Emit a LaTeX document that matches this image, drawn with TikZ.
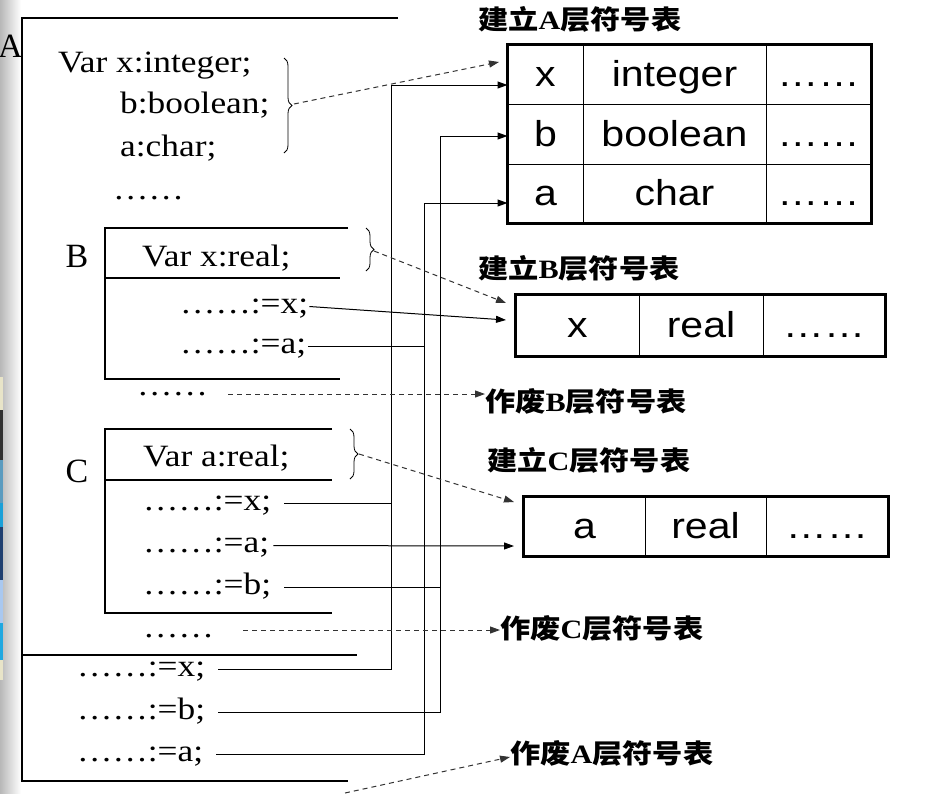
\documentclass[tikz,border=0pt]{standalone}
\usepackage{fontspec}
\setmainfont[FakeStretch=1.14]{Liberation Serif}
\newfontfamily\lblfont{Liberation Serif}
\newfontfamily\arialf[FakeStretch=1.14]{Liberation Sans}
\newfontfamily\cjkf[FakeStretch=1.14]{Noto Sans CJK SC}
\usetikzlibrary{arrows.meta,decorations.pathreplacing,calc}
\newcommand\mkttl[3]{{\cjkf\bfseries #1}{\bfseries #2}{\cjkf\bfseries #3}}
\begin{document}
\begin{tikzpicture}[x=1pt,y=-1pt,
  stmt/.style={anchor=base west, inner sep=0pt, text height=13pt, text depth=0pt, font=\fontsize{31}{37}\selectfont},
  lbl/.style={anchor=base, inner sep=0pt, font=\lblfont\fontsize{34}{40}\selectfont},
  cell/.style={draw, line width=1pt, inner sep=0pt, text height=25pt, text depth=1pt, font=\arialf\fontsize{36}{43}\selectfont},
  title/.style={anchor=west, inner sep=0pt, font=\fontsize{26.5}{32}\selectfont},
  frame/.style={line width=1.2pt},
  thick frame/.style={line width=3pt},
  wire/.style={line width=1pt},
  arr/.style={wire, -{Triangle[length=10pt,width=7pt]}},
  darr/.style={line width=1pt, black!80, dash pattern=on 5pt off 4pt, -{Triangle[length=10pt,width=7pt]}},
  brc/.style={decorate, decoration={brace, amplitude=8pt}, line width=0.8pt},
]
\useasboundingbox (0,0) rectangle (947,793);
% left slide strip
\shade[left color=black!28, right color=white] (0,0) rectangle (21,793);
\fill[fill={rgb,255:red,232;green,228;blue,200}] (0,377) rectangle (3,410);
\fill[fill={rgb,255:red,48;green,48;blue,48}] (0,410) rectangle (3,460);
\fill[fill={rgb,255:red,90;green,155;blue,191}] (0,460) rectangle (3,503);
\fill[fill={rgb,255:red,26;green,160;blue,216}] (0,503) rectangle (3,527);
\fill[fill={rgb,255:red,31;green,63;blue,112}] (0,527) rectangle (3,580);
\fill[fill={rgb,255:red,169;green,200;blue,240}] (0,580) rectangle (3,623);
\fill[fill={rgb,255:red,32;green,168;blue,224}] (0,623) rectangle (3,660);
\fill[fill={rgb,255:red,232;green,228;blue,200}] (0,660) rectangle (3,680);

% block frames
\draw[frame] (398,18) -- (22,18) -- (22,781) -- (348,781);
\draw[frame] (22,655) -- (357,655);
\draw[frame] (348,228) -- (105,228) -- (105,379) -- (340,379);
\draw[frame] (105,278) -- (340,278);
\draw[frame] (332,429) -- (105,429) -- (105,613) -- (332,613);
\draw[frame] (105,480) -- (332,480);

% block labels
\node[lbl, anchor=base east] (LA) at (23,57) {A};
\node[lbl] (LB) at (77,267) {B};
\node[lbl] (LC) at (77,482) {C};

% program text
\node[stmt] (v1) at (58,72) {Var x:integer;};
\node[stmt] (v2) at (120,113) {b:boolean;};
\node[stmt] (v3) at (120,156) {a:char;};
\node[stmt] (dA) at (113,199) {……};
\node[stmt] (vB) at (142,266) {Var x:real;};
\node[stmt] (Bx) at (180,313) {……:=x;};
\node[stmt] (Ba) at (180,353) {……:=a;};
\node[stmt] (dB) at (137,395) {……};
\node[stmt] (vC) at (143,466) {Var a:real;};
\node[stmt] (Cx) at (143,510) {……:=x;};
\node[stmt] (Ca) at (143,552) {……:=a;};
\node[stmt] (Cb) at (143,594) {……:=b;};
\node[stmt] (dC) at (143,637) {……};
\node[stmt] (Ex) at (77,676) {……:=x;};
\node[stmt] (Eb) at (77,719) {……:=b;};
\node[stmt] (Ea) at (77,761) {……:=a;};

% braces
\draw[brc] (284,58) -- (284,153);
\draw[brc] (366,228) -- (366,271);
\draw[brc] (350,429) -- (350,479);
\coordinate (bA) at (294,104);
\coordinate (bB) at (374,251);
\coordinate (bC) at (359,454);

% titles
\node[title] (tA) at (478,19) {\mkttl{建立}{A}{层符号表}};
\node[title] (tB) at (478,268) {\mkttl{建立}{B}{层符号表}};
\node[title] (tC) at (487,460) {\mkttl{建立}{C}{层符号表}};
\node[title] (kB) at (485,401) {\mkttl{作废}{B}{层符号表}};
\node[title] (kC) at (500,628) {\mkttl{作废}{C}{层符号表}};
\node[title] (kA) at (510,753) {\mkttl{作废}{A}{层符号表}};

% table A
\node[cell, minimum width=75pt, minimum height=59pt] (A11) at (545.5,74.5) {x};
\node[cell, minimum width=183pt, minimum height=59pt] (A12) at (674.5,74.5) {integer};
\node[cell, minimum width=105pt, minimum height=59pt] (A13) at (818.5,74.5) {……};
\node[cell, minimum width=75pt, minimum height=60pt] (A21) at (545.5,134) {b};
\node[cell, minimum width=183pt, minimum height=60pt] (A22) at (674.5,134) {boolean};
\node[cell, minimum width=105pt, minimum height=60pt] (A23) at (818.5,134) {……};
\node[cell, minimum width=75pt, minimum height=59pt] (A31) at (545.5,193.5) {a};
\node[cell, minimum width=183pt, minimum height=59pt] (A32) at (674.5,193.5) {char};
\node[cell, minimum width=105pt, minimum height=59pt] (A33) at (818.5,193.5) {……};
\draw[thick frame] (A11.north west) rectangle (A33.south east);

% table B
\node[cell, minimum width=123pt, minimum height=61pt] (B1) at (577.5,325.5) {x};
\node[cell, minimum width=124pt, minimum height=61pt] (B2) at (701,325.5) {real};
\node[cell, minimum width=122pt, minimum height=61pt] (B3) at (824,325.5) {……};
\draw[thick frame] (B1.north west) rectangle (B3.south east);

% table C
\node[cell, minimum width=121pt, minimum height=59pt] (C1) at (584.5,526.5) {a};
\node[cell, minimum width=121pt, minimum height=59pt] (C2) at (705.5,526.5) {real};
\node[cell, minimum width=122pt, minimum height=59pt] (C3) at (827,526.5) {……};
\draw[thick frame] (C1.north west) rectangle (C3.south east);

% bus lines
\coordinate (vx) at (391,85);
\coordinate (vb) at (440,136);
\coordinate (va) at (424,203);
\draw[arr] ([xshift=13pt]Ex.east) -| (vx) -- (vx -| A11.west);
\draw[arr] ([xshift=13pt]Eb.east) -| (vb) -- (vb -| A21.west);
\draw[arr] ([xshift=13pt]Ea.east) -| (va) -- (va -| A31.west);
\draw[wire] ([xshift=13pt]Cx.east) -- (Cx.east -| vx);
\draw[wire] ([xshift=13pt]Cb.east) -- (Cb.east -| vb);
\draw[wire] ([xshift=2pt]Ba.east) -- (Ba.east -| va);
\coordinate (tBx) at (506,320);
\coordinate (tCa) at (514,546);
\draw[arr] ([xshift=1pt]Bx.east) -- (tBx);
\draw[arr] ([xshift=4pt]Ca.east) -- (tCa);

% dashed arrows
\coordinate (tAd) at (499,62);
\coordinate (tBd) at (506,303);
\coordinate (tCd) at (514,502);
\draw[darr] (bA) -- (tAd);
\draw[darr] (bB) -- (tBd);
\draw[darr] (bC) -- (tCd);
\coordinate (sB) at ([xshift=20pt,yshift=1pt]dB.base east);
\draw[darr] (sB) -- (sB -| kB.west);
\coordinate (sC) at ([xshift=29pt,yshift=7pt]dC.base east);
\draw[darr] (sC) -- (sC -| kC.west);
\coordinate (sA) at (345,793);
\draw[darr] (sA) -- ([yshift=-4pt]kA.west);
\end{tikzpicture}
\end{document}
